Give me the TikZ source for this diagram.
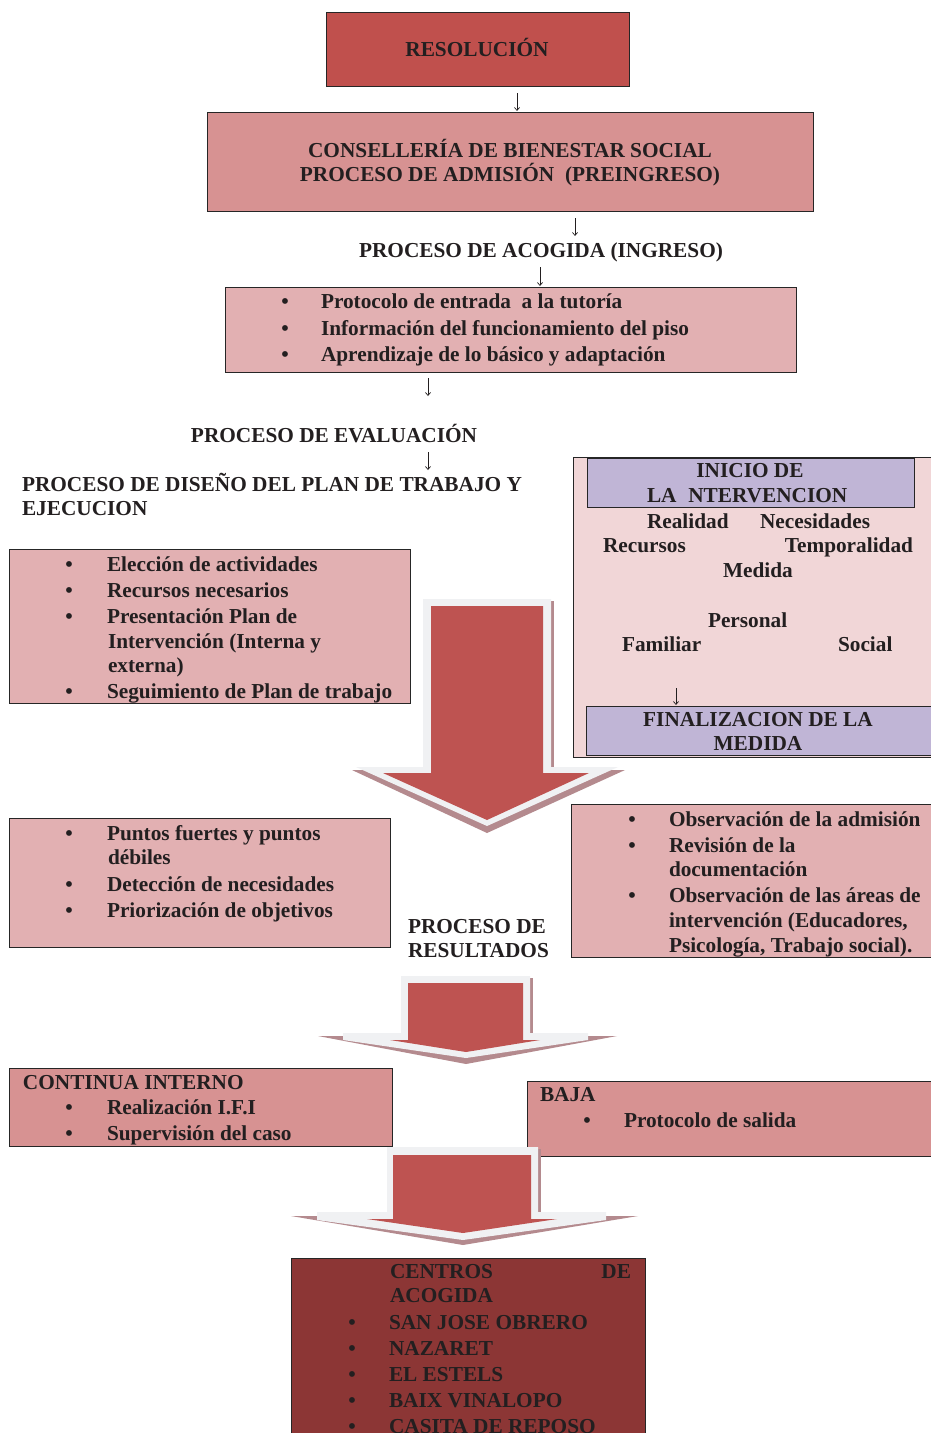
\documentclass[tikz,border=0pt]{standalone}
\usepackage{fontspec}
\setmainfont{Liberation Serif}
\usetikzlibrary{arrows.meta}
\definecolor{txtc}{RGB}{35,31,32}
\definecolor{resred}{RGB}{192,80,77}
\definecolor{midpink}{RGB}{215,146,146}
\definecolor{pinkbox}{RGB}{226,176,178}
\definecolor{palepink}{RGB}{241,214,215}
\definecolor{lav}{RGB}{192,181,214}
\definecolor{darkred}{RGB}{140,54,53}
\definecolor{arrred}{RGB}{190,83,81}
\definecolor{arrlight}{RGB}{240,241,243}
\definecolor{arrshadow}{RGB}{180,138,142}
\begin{document}
\begin{tikzpicture}[x=1pt,y=-1pt,
  box/.style={draw=black!85, line width=0.8pt, anchor=north west, inner sep=0pt, outer sep=0pt},
  tx/.style={font=\bfseries\fontsize{21.3}{26}\selectfont, text=txtc, inner sep=0pt, outer sep=0pt, anchor=base west},
  tc/.style={tx, anchor=base},
  te/.style={tx, anchor=base east},
  smallarrow/.style={draw=txtc, line width=0.7pt, -{Straight Barb[length=3pt,width=5pt]}},
  fatshadow/.style={fill=arrshadow},
  fatlight/.style={fill=arrlight},
  fatfill/.style={fill=arrred},
]
\useasboundingbox (0,0) rectangle (931,1433);
\fill[white] (0,0) rectangle (931,1433);

% ---------- boxes ----------
\node[box, fill=resred, minimum width=303pt, minimum height=74pt] (res) at (326,12) {};
\node[box, fill=midpink, minimum width=606pt, minimum height=99pt] (cons) at (207,112) {};
\node[box, fill=pinkbox, minimum width=571pt, minimum height=85pt] (acog) at (225,287) {};
\node[box, fill=palepink, minimum width=365pt, minimum height=300pt] (panel) at (573,457) {};
\node[box, fill=lav, minimum width=327pt, minimum height=49pt] (inicio) at (587,458) {};
\node[box, fill=lav, minimum width=352pt, minimum height=49pt] (final) at (586,706) {};
\node[box, fill=pinkbox, minimum width=401pt, minimum height=154pt] (left1) at (9,549) {};
\node[box, fill=pinkbox, minimum width=381pt, minimum height=129pt] (left2) at (9,818) {};
\node[box, fill=pinkbox, minimum width=367pt, minimum height=153pt] (right2) at (571,804) {};
\node[box, fill=midpink, minimum width=383pt, minimum height=78pt] (cont) at (9,1068) {};
\node[box, fill=midpink, minimum width=412pt, minimum height=75pt] (baja) at (527,1081) {};
\node[box, fill=darkred, minimum width=354pt, minimum height=185pt] (centros) at (291,1258) {};

% ---------- small arrows ----------
\coordinate (a1s) at (517,93);  \coordinate (a1e) at (517,111);
\coordinate (a2s) at (575,218); \coordinate (a2e) at (575,236);
\coordinate (a3s) at (540,267); \coordinate (a3e) at (540,286);
\coordinate (a4s) at (428,378); \coordinate (a4e) at (428,396);
\coordinate (a5s) at (428,452); \coordinate (a5e) at (428,470);
\coordinate (a6s) at (676,688); \coordinate (a6e) at (676,705);
\foreach \i in {1,...,6} {\draw[smallarrow] (a\i s) -- (a\i e);}

% ---------- fat arrows ----------
% arrow 1
\fill[fatshadow] (352,770) -- (625,770) -- (487,833) -- cycle;
\fill[fatshadow] (551,601) rectangle (554,767);
\fill[fatlight] (423,599) -- (551,599) -- (551,767) -- (618,767) -- (487,826) -- (356,767) -- (423,767) -- cycle;
\fill[fatfill] (431,606) -- (543,606) -- (543,773) -- (589,773) -- (487,820) -- (383,773) -- (431,773) -- cycle;
% arrow 2
\fill[fatshadow] (318,1036) -- (617,1036) -- (466,1064) -- cycle;
\fill[fatshadow] (530,978) rectangle (533,1033);
\fill[fatlight] (401,976) -- (530,976) -- (530,1033) -- (588,1033) -- (588,1040) -- (466,1058) -- (343,1040) -- (343,1033) -- (401,1033) -- cycle;
\fill[fatfill] (408,983) -- (523,983) -- (523,1040) -- (540,1040) -- (466,1052) -- (390,1040) -- (408,1040) -- cycle;
% arrow 3
\fill[fatshadow] (291,1216) -- (638,1216) -- (463,1245) -- cycle;
\fill[fatshadow] (538,1149) rectangle (541,1212);
\fill[fatlight] (387,1147) -- (538,1147) -- (538,1212) -- (606,1212) -- (606,1220) -- (463,1240) -- (317,1220) -- (317,1212) -- (387,1212) -- cycle;
\fill[fatfill] (393,1155) -- (531,1155) -- (531,1219) -- (557,1219) -- (463,1233) -- (367,1219) -- (393,1219) -- cycle;

% ---------- texts ----------
\node[tc] (t-res) at (477,56) {RESOLUCIÓN};
\node[tc] (t-cons1) at (510,157) {CONSELLERÍA DE BIENESTAR SOCIAL};
\node[tc] (t-cons2) at (510,181) {PROCESO DE ADMISIÓN\ \ (PREINGRESO)};
\node[tc] (t-acog) at (541,257) {PROCESO DE ACOGIDA (INGRESO)};

\node[tc] (b-ac1) at (285,308) {•};
\node[tc] (b-ac2) at (285,335) {•};
\node[tc] (b-ac3) at (285,361) {•};
\node[tx] (t-ac1) at (321,308) {Protocolo de entrada\ \ a la tutoría};
\node[tx] (t-ac2) at (321,335) {Información del funcionamiento del piso};
\node[tx] (t-ac3) at (321,361) {Aprendizaje de lo básico y adaptación};

\node[tc] (t-eval) at (334,442) {PROCESO DE EVALUACIÓN};
\node[tx] (t-dis1) at (22,491) {PROCESO DE DISEÑO DEL PLAN DE TRABAJO Y};
\node[tx] (t-dis2) at (22,515) {EJECUCION};

% right panel
\node[tc] (t-ini1) at (750,477) {INICIO DE};
\node[tx] (t-ini2) at (647,502) {LA\hspace{0.55em}NTERVENCION};
\node[tx] (t-real) at (647,528) {Realidad};
\node[tx] (t-nece) at (760,528) {Necesidades};
\node[tx] (t-recu) at (603,552) {Recursos};
\node[te] (t-temp) at (913,552) {Temporalidad};
\node[tx] (t-medi) at (723,577) {Medida};
\node[tx] (t-pers) at (708,627) {Personal};
\node[tx] (t-fami) at (622,651) {Familiar};
\node[tx] (t-soci) at (838,651) {Social};
\node[tc] (t-fin1) at (758,726) {FINALIZACION DE LA};
\node[tc] (t-fin2) at (758,750) {MEDIDA};

% left box 1
\node[tc] (b-l1a) at (69,571) {•};
\node[tc] (b-l1b) at (69,597) {•};
\node[tc] (b-l1c) at (69,623) {•};
\node[tc] (b-l1d) at (69,698) {•};
\node[tx] (t-l1a) at (107,571) {Elección de actividades};
\node[tx] (t-l1b) at (107,597) {Recursos necesarios};
\node[tx] (t-l1c) at (107,623) {Presentación Plan de};
\node[tx] (t-l1c2) at (108,648) {Intervención (Interna y};
\node[tx] (t-l1c3) at (108,672) {externa)};
\node[tx] (t-l1d) at (107,698) {Seguimiento de Plan de trabajo};

% left box 2
\node[tc] (b-l2a) at (69,840) {•};
\node[tc] (b-l2b) at (69,891) {•};
\node[tc] (b-l2c) at (69,917) {•};
\node[tx] (t-l2a) at (107,840) {Puntos fuertes y puntos};
\node[tx] (t-l2a2) at (108,864) {débiles};
\node[tx] (t-l2b) at (107,891) {Detección de necesidades};
\node[tx] (t-l2c) at (107,917) {Priorización de objetivos};

\node[tx] (t-res1) at (408,933) {PROCESO DE};
\node[tx] (t-res2) at (408,957) {RESULTADOS};

% right box 2
\node[tc] (b-r2a) at (632,826) {•};
\node[tc] (b-r2b) at (632,852) {•};
\node[tc] (b-r2c) at (632,902) {•};
\node[tx] (t-r2a) at (669,826) {Observación de la admisión};
\node[tx] (t-r2b) at (669,852) {Revisión de la};
\node[tx] (t-r2b2) at (669,876) {documentación};
\node[tx] (t-r2c) at (669,902) {Observación de las áreas de};
\node[tx] (t-r2c2) at (669,927) {intervención (Educadores,};
\node[tx] (t-r2c3) at (669,952) {Psicología, Trabajo social).};

% continua / baja
\node[tx] (t-cont) at (23,1089) {CONTINUA INTERNO};
\node[tc] (b-co1) at (69,1114) {•};
\node[tc] (b-co2) at (69,1140) {•};
\node[tx] (t-co1) at (107,1114) {Realización I.F.I};
\node[tx] (t-co2) at (107,1140) {Supervisión del caso};
\node[tx] (t-baja) at (540,1101) {BAJA};
\node[tc] (b-ba1) at (587,1127) {•};
\node[tx] (t-ba1) at (624,1127) {Protocolo de salida};

% centros
\node[tx] (t-cen1) at (390,1278) {CENTROS};
\node[te] (t-cen1b) at (631,1278) {DE};
\node[tx] (t-cen2) at (390,1302) {ACOGIDA};
\node[tc] (b-ce1) at (352,1329) {•};
\node[tc] (b-ce2) at (352,1355) {•};
\node[tc] (b-ce3) at (352,1381) {•};
\node[tc] (b-ce4) at (352,1407) {•};
\node[tc] (b-ce5) at (352,1433) {•};
\node[tx] (t-ce1) at (389,1329) {SAN JOSE OBRERO};
\node[tx] (t-ce2) at (389,1355) {NAZARET};
\node[tx] (t-ce3) at (389,1381) {EL ESTELS};
\node[tx] (t-ce4) at (389,1407) {BAIX VINALOPO};
\node[tx] (t-ce5) at (389,1433) {CASITA DE REPOSO};
\end{tikzpicture}
\end{document}
